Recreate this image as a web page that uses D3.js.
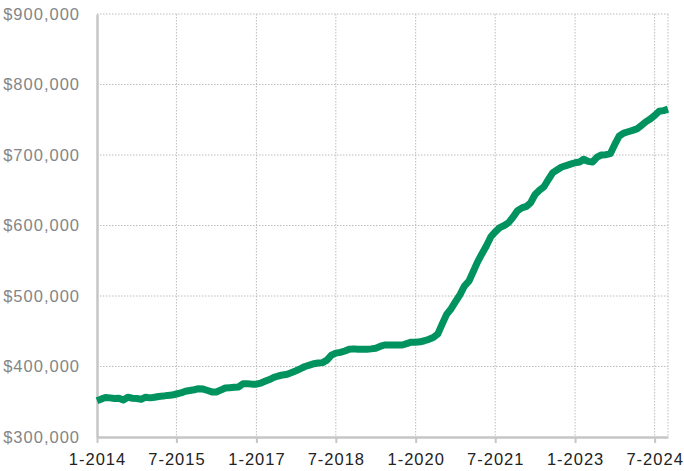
<!DOCTYPE html>
<html>
<head>
<meta charset="utf-8">
<script src="https://cdn.jsdelivr.net/npm/d3@7"></script>
<style>
  html, body { margin: 0; padding: 0; background: #fff; }
  svg { display: block; }
  text { font-family: "Liberation Sans", Arial, Helvetica, sans-serif; }
</style>
</head>
<body>
<svg id="chart" width="684" height="471"></svg>
<script>
// Monthly median price, January 2014 through October 2024
const startMonth = "2014-01";
const prices2014 = [351500, 354000, 356000, 355500, 354500, 355000, 352500, 356500, 355000, 354500, 353500, 356500];
const prices2015 = [355500, 356500, 357500, 358000, 359000, 359500, 361000, 362500, 365000, 366000, 367000, 368500];
const prices2016 = [368000, 366000, 364000, 364000, 366500, 369500, 370000, 370500, 371000, 375500, 375500, 375000];
const prices2017 = [375000, 376500, 379000, 381500, 384500, 386500, 388000, 389000, 391500, 394000, 397000, 400000];
const prices2018 = [402000, 404000, 405000, 405500, 409000, 416000, 419000, 420000, 422000, 424500, 425000, 424500];
const prices2019 = [424500, 424500, 425000, 426000, 428500, 430500, 430500, 430500, 430500, 430500, 432500, 434500];
const prices2020 = [434500, 435000, 436500, 438500, 441000, 446000, 460000, 474000, 482000, 492000, 502000, 514000];
const prices2021 = [521000, 535000, 548000, 560000, 571000, 584000, 591000, 597000, 600000, 604000, 612000, 621000];
const prices2022 = [625000, 627000, 632000, 644000, 650000, 655000, 665000, 675000, 679000, 683000, 685000, 687000];
const prices2023 = [689000, 690000, 694000, 691000, 690000, 697000, 700000, 700500, 702000, 715000, 727000, 731000];
const prices2024 = [733000, 735000, 737000, 742000, 747000, 751000, 756000, 762000, 763000, 765000];

const yTicks = [300000, 400000, 500000, 600000, 700000, 800000, 900000];
const xTickLabels = ["1-2014", "7-2015", "1-2017", "7-2018", "1-2020", "7-2021", "1-2023", "7-2024"];

const prices = [].concat(prices2014, prices2015, prices2016, prices2017, prices2018,
                         prices2019, prices2020, prices2021, prices2022, prices2023, prices2024);
const parseMonth = d3.timeParse("%Y-%m");
const start = parseMonth(startMonth);
const series = prices.map((v, i) => ({ date: d3.timeMonth.offset(start, i), value: v }));
const tickDates = xTickLabels.map(s => d3.timeParse("%m-%Y")(s));

const margin = { left: 97, right: 16, top: 14, bottom: 34 };
const W = 684, H = 471;
const svg = d3.select("#chart");

const x = d3.scaleTime()
  .domain([start, series[series.length - 1].date])
  .range([margin.left, W - margin.right]);
const y = d3.scaleLinear()
  .domain([300000, 900000])
  .range([H - margin.bottom, margin.top]);

const gridColor = "#bdbdbd";
const axisColor = "#c6c6c6";

// horizontal dotted grid
svg.append("g").selectAll("line")
  .data(yTicks.slice(1))
  .join("line")
  .attr("x1", margin.left).attr("x2", W - margin.right)
  .attr("y1", d => y(d)).attr("y2", d => y(d))
  .attr("stroke", gridColor).attr("stroke-width", 1)
  .attr("stroke-dasharray", "1.5,1.5");

// vertical dotted grid (ticks plus right border)
svg.append("g").selectAll("line")
  .data(tickDates.slice(1).concat([x.domain()[1]]))
  .join("line")
  .attr("x1", d => x(d)).attr("x2", d => x(d))
  .attr("y1", margin.top).attr("y2", H - margin.bottom)
  .attr("stroke", gridColor).attr("stroke-width", 1)
  .attr("stroke-dasharray", "1.5,1.5");

// y axis
const yAxis = d3.axisLeft(y)
  .tickValues(yTicks)
  .tickSize(0)
  .tickPadding(17)
  .tickFormat(d => "$" + d3.format(",")(d));
const gy = svg.append("g")
  .attr("transform", `translate(${margin.left},0)`)
  .call(yAxis);
gy.select(".domain").attr("stroke", axisColor).attr("stroke-width", 2.5);
gy.selectAll("text")
  .attr("fill", "#858585")
  .style("font-size", "16.5px")
  .style("letter-spacing", "1px");

// x axis
const xAxis = d3.axisBottom(x)
  .tickValues(tickDates)
  .tickSize(6)
  .tickSizeOuter(0)
  .tickPadding(10)
  .tickFormat(d3.timeFormat("%-m-%Y"));
const gx = svg.append("g")
  .attr("transform", `translate(0,${H - margin.bottom})`)
  .call(xAxis);
gx.select(".domain").attr("stroke", axisColor).attr("stroke-width", 2.5);
gx.selectAll(".tick line").attr("stroke", axisColor).attr("stroke-width", 2);
gx.selectAll("text")
  .attr("fill", "#222")
  .style("font-size", "16.5px")
  .style("letter-spacing", "1px");

// price line
const line = d3.line()
  .x(d => x(d.date))
  .y(d => y(d.value))
  .curve(d3.curveLinear);
svg.append("path")
  .datum(series)
  .attr("fill", "none")
  .attr("stroke", "#00925f")
  .attr("stroke-width", 7)
  .attr("stroke-linejoin", "round")
  .attr("stroke-linecap", "butt")
  .attr("d", line);
</script>
</body>
</html>
